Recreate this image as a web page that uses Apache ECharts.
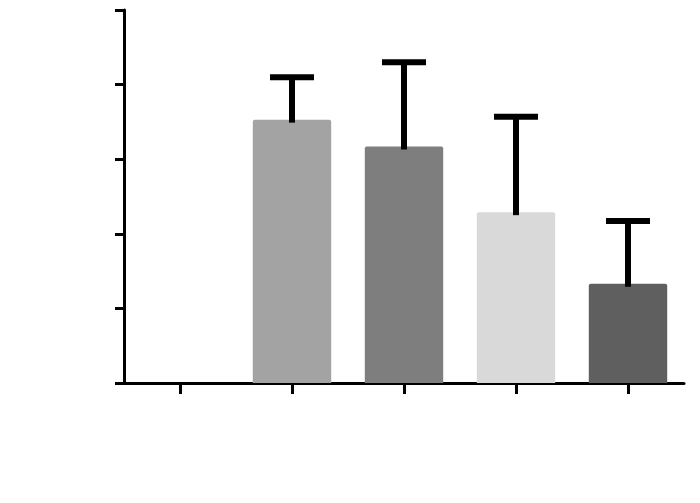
<!DOCTYPE html>
<html>
<head>
<meta charset="utf-8">
<script src="https://cdn.jsdelivr.net/npm/echarts@6/dist/echarts.min.js"></script>
<style>
html,body{margin:0;padding:0;background:#fff;}
#main{width:700px;height:503px;}
</style>
</head>
<body>
<div id="main"></div>
<script>
// data (y axis has no labels: 0..5 units)
var categories = ['', 'B', 'C', 'D', 'E'];
var means = [null, 3.53, 3.17, 2.29, 1.33];
var errorTops = [null, 4.10, 4.30, 3.57, 2.17];
var barColors = ['#ffffff', '#a3a3a3', '#7e7e7e', '#d9d9d9', '#5f5f5f'];
var yTicks = [0, 1, 2, 3, 4, 5];

var chart = echarts.init(document.getElementById('main'));

var barData = means.map(function (v, i) {
    return { value: v, itemStyle: { color: barColors[i] } };
});
var errData = [];
means.forEach(function (v, i) {
    if (v != null) errData.push([i, v, errorTops[i]]);
});

chart.setOption({
    animation: false,
    grid: { left: 124, right: 16, top: 10, bottom: 120 },
    xAxis: {
        type: 'category',
        data: categories,
        axisLine: { lineStyle: { color: '#000', width: 3 } },
        axisTick: { show: true, interval: 0, alignWithLabel: true, length: 11, lineStyle: { color: '#000', width: 3 } },
        axisLabel: { show: true, interval: 0, formatter: function () { return ''; } }
    },
    yAxis: {
        type: 'value',
        min: yTicks[0],
        max: yTicks[yTicks.length - 1],
        interval: 1,
        axisLine: { show: true, lineStyle: { color: '#000', width: 3 } },
        axisTick: { show: true, length: 9, lineStyle: { color: '#000', width: 3 } },
        axisLabel: { show: false },
        splitLine: { show: false }
    },
    series: [
        {
            type: 'bar',
            data: barData,
            barWidth: '70%',
            itemStyle: { borderRadius: [2, 2, 0, 0] }
        },
        {
            type: 'custom',
            data: errData,
            z: 3,
            renderItem: function (params, api) {
                var x = api.value(0);
                var low = api.coord([x, api.value(1)]);
                var high = api.coord([x, api.value(2)]);
                var half = 22;
                var style = { stroke: '#000', lineWidth: 6 };
                return {
                    type: 'group',
                    children: [
                        { type: 'line', shape: { x1: low[0], y1: low[1] + 3, x2: high[0], y2: high[1] }, style: style },
                        { type: 'line', shape: { x1: high[0] - half, y1: high[1], x2: high[0] + half, y2: high[1] }, style: style }
                    ]
                };
            }
        }
    ]
});
</script>
</body>
</html>
